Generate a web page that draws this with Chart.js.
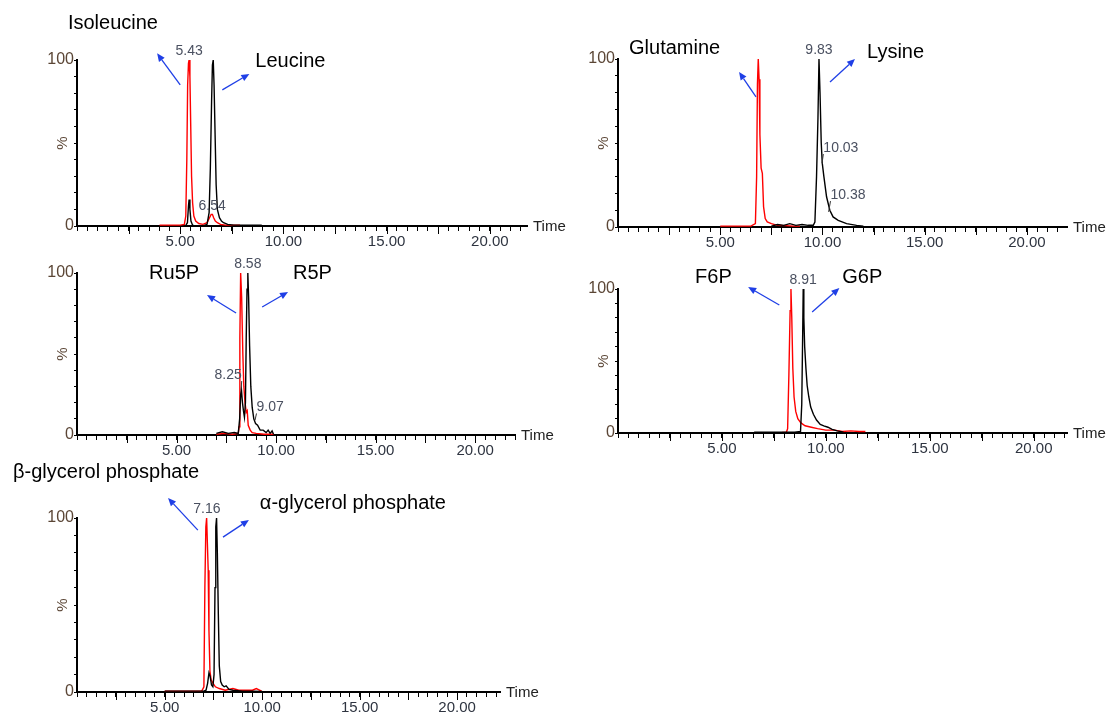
<!DOCTYPE html>
<html>
<head>
<meta charset="utf-8">
<script src="https://cdn.jsdelivr.net/npm/chart.js@4.4.0/dist/chart.umd.min.js"></script>
<style>
  body { margin: 0; background: #fff; width: 1114px; height: 713px; position: relative; overflow: hidden; }
  canvas { position: absolute; }
</style>
</head>
<body>
<canvas id="c1"></canvas>
<canvas id="c2"></canvas>
<canvas id="c3"></canvas>
<canvas id="c4"></canvas>
<canvas id="c5"></canvas>
<script>
// ---- data (time in min, intensity in %) ----
// Isoleucine (red) / Leucine (black)
var ileT = [4.0, 4.6, 5.0, 5.2, 5.27, 5.32, 5.36, 5.40, 5.43, 5.47, 5.51, 5.55, 5.60, 5.66, 5.75, 5.9, 6.1, 6.3, 6.42, 6.5, 6.56, 6.62, 6.7, 6.8, 6.95, 7.2, 7.5, 7.9];
var ileV = [0.5, 0.5, 0.5, 1, 6, 40, 85, 98, 100, 90, 60, 30, 14, 6, 3, 1.5, 1, 2, 5, 7, 7, 5, 3, 2, 1, 0.5, 0.5, 0.5];
var leuT = [5.25, 5.35, 5.40, 5.43, 5.47, 5.52, 5.6, 5.7, 5.9, 6.1, 6.3, 6.4, 6.46, 6.52, 6.56, 6.6, 6.64, 6.69, 6.74, 6.8, 6.9, 7.0, 7.1, 7.3, 7.6, 8.0, 8.5, 8.95];
var leuV = [0, 2, 12, 16, 10, 3, 0.5, 0, 0, 0, 1, 8, 35, 75, 97, 100, 85, 55, 25, 10, 5, 3, 2, 1, 0.5, 0.5, 0.5, 0.5];

// Glutamine (red) / Lysine (black)
var glnT = [5.0, 6.0, 6.5, 6.72, 6.78, 6.82, 6.86, 6.9, 6.94, 7.0, 7.06, 7.12, 7.2, 7.3, 7.5, 7.8, 8.2, 8.6, 8.9];
var glnV = [0.5, 0.5, 0.5, 2, 30, 85, 100, 88, 55, 35, 32, 12, 5, 3, 2, 1, 0.8, 0.5, 0.5];
var lysT = [7.5, 7.8, 8.1, 8.4, 8.7, 9.0, 9.3, 9.55, 9.63, 9.71, 9.78, 9.83, 9.88, 9.94, 9.99, 10.07, 10.2, 10.36, 10.52, 10.77, 11.18, 11.67, 12.0];
var lysV = [0.5, 1.5, 1, 2, 1, 1.5, 1, 1, 3, 30, 65, 100, 80, 50, 38, 30, 18, 10, 6, 4, 2, 1, 0.5];

// Ru5P (red) / R5P (black)
var ru5pT = [7.0, 7.4, 7.8, 8.1, 8.14, 8.18, 8.22, 8.27, 8.33, 8.38, 8.44, 8.5, 8.55, 8.6, 8.7, 8.8, 9.0, 9.4, 9.87];
var ru5pV = [0.5, 1, 0.5, 1, 5, 60, 100, 85, 50, 30, 20, 14, 15, 6, 3, 1.5, 1, 0.5, 0.5];
var r5pT = [7.0, 7.3, 7.6, 7.9, 8.1, 8.17, 8.22, 8.26, 8.31, 8.36, 8.41, 8.46, 8.5, 8.54, 8.58, 8.62, 8.67, 8.73, 8.8, 8.88, 8.97, 9.07, 9.2, 9.35, 9.5, 9.6, 9.7, 9.8, 9.87];
var r5pV = [1, 2, 1, 1.5, 1, 10, 25, 28, 20, 15, 11, 20, 60, 90, 100, 85, 55, 30, 17, 10, 7, 6, 3, 3, 1.5, 3, 1, 2.5, 0.5];

// F6P (red) / G6P (black)
var f6pT = [7.9, 8.1, 8.16, 8.22, 8.28, 8.32, 8.36, 8.41, 8.47, 8.55, 8.65, 8.8, 9.0, 9.3, 9.6, 10.0, 10.4, 10.8, 11.2, 11.6, 11.9];
var f6pV = [0.3, 0.5, 3, 40, 85, 100, 80, 45, 25, 15, 10, 7, 5, 4, 3, 2, 2, 1, 1.5, 1, 1];
var g6pT = [6.55, 7.0, 7.5, 8.0, 8.5, 8.78, 8.84, 8.89, 8.91, 8.94, 8.98, 9.04, 9.1, 9.18, 9.27, 9.4, 9.55, 9.73, 9.9, 10.1, 10.3, 10.55, 10.85];
var g6pV = [0.5, 0.5, 0.5, 0.5, 0.5, 1, 20, 75, 100, 80, 60, 45, 33, 25, 18, 13, 9, 6, 5, 4, 2.5, 1.5, 0.5];

// beta-glycerol phosphate (red) / alpha-glycerol phosphate (black)
var bgpT = [5.0, 6.0, 6.9, 7.01, 7.06, 7.11, 7.15, 7.19, 7.23, 7.27, 7.32, 7.38, 7.48, 7.6, 7.8, 8.1, 8.5, 8.8, 9.2, 9.5, 9.7, 9.97];
var bgpV = [0.5, 0.5, 0.5, 3, 60, 95, 100, 85, 70, 35, 12, 7, 5, 3, 2, 1, 2, 1, 1, 1, 2, 0.5];
var agpT = [5.0, 6.0, 7.0, 7.12, 7.2, 7.27, 7.33, 7.4, 7.47, 7.53, 7.58, 7.62, 7.66, 7.7, 7.75, 7.8, 7.87, 7.95, 8.05, 8.15, 8.3, 8.5, 9.0, 9.5, 10.0];
var agpV = [0.5, 0.5, 0.5, 1, 5, 11, 9, 4, 3, 10, 60, 95, 100, 80, 45, 15, 6, 4, 3, 3.5, 1.5, 1, 0.5, 0.5, 0.3];

// x axis tick labels
var xLabels = [5, 10, 15, 20];

Chart.defaults.font.family = "'Liberation Sans', Arial, sans-serif";

function pts(t, v) {
  return t.map(function (x, i) { return { x: x, y: v[i] }; });
}

// decorations: longer ticks, % and Time labels, peak labels, names, arrows
var deco = {
  id: 'deco',
  afterDraw: function (chart, args, o) {
    var ctx = chart.ctx, a = chart.chartArea, x = chart.scales.x, y = chart.scales.y;
    ctx.save();
    ctx.strokeStyle = '#000';
    ctx.lineWidth = 1;
    for (var t = Math.ceil(x.min / 2.5) * 2.5; t <= x.max; t += 2.5) {
      if (t === 0) continue;
      var px = Math.round(x.getPixelForValue(t)) + 0.5;
      ctx.beginPath(); ctx.moveTo(px, a.bottom); ctx.lineTo(px, a.bottom + 8); ctx.stroke();
    }
    // % label
    ctx.save();
    ctx.fillStyle = '#5b4636';
    ctx.font = "15px 'Liberation Sans', Arial";
    ctx.translate(a.left - 14, (a.top + a.bottom) / 2);
    ctx.rotate(-Math.PI / 2);
    ctx.textAlign = 'center'; ctx.textBaseline = 'middle';
    ctx.fillText('%', 0, 0);
    ctx.restore();
    // Time
    ctx.fillStyle = '#222';
    ctx.font = "15px 'Liberation Sans', Arial";
    ctx.textAlign = 'left'; ctx.textBaseline = 'middle';
    ctx.fillText('Time', a.right + 6, a.bottom + 1);
    // peak labels
    ctx.font = "14px 'Liberation Sans', Arial";
    ctx.fillStyle = '#4a5060';
    ctx.strokeStyle = '#333';
    (o.peaks || []).forEach(function (p) {
      var px = x.getPixelForValue(p.t), py = y.getPixelForValue(p.v);
      if (p.lt === undefined) {
        ctx.textAlign = 'center'; ctx.textBaseline = 'bottom';
        ctx.fillText(p.text, px, py - 2);
        return;
      }
      var cx = x.getPixelForValue(p.lt), cy = y.getPixelForValue(p.lv);
      ctx.textAlign = 'center'; ctx.textBaseline = 'middle';
      ctx.fillText(p.text, cx, cy);
      if (p.line === false) return;
      var w = ctx.measureText(p.text).width;
      var ex = p.lt > p.t ? cx - w / 2 : cx + w / 2;
      ctx.beginPath(); ctx.moveTo(px, py); ctx.lineTo(ex, cy + 6); ctx.stroke();
    });
    // compound names
    ctx.font = "20px 'Liberation Sans', Arial";
    ctx.fillStyle = '#000';
    ctx.textAlign = 'left'; ctx.textBaseline = 'middle';
    (o.names || []).forEach(function (n) {
      ctx.fillText(n.text, x.getPixelForValue(n.t), y.getPixelForValue(n.v));
    });
    // arrows
    ctx.strokeStyle = '#1f3fe6';
    ctx.fillStyle = '#1f3fe6';
    ctx.lineWidth = 1.3;
    (o.arrows || []).forEach(function (r) {
      var x0 = x.getPixelForValue(r[0]), y0 = y.getPixelForValue(r[1]);
      var x1 = x.getPixelForValue(r[2]), y1 = y.getPixelForValue(r[3]);
      var ang = Math.atan2(y1 - y0, x1 - x0);
      var hl = 8, hw = 3.5;
      var bx = x1 - hl * Math.cos(ang), by = y1 - hl * Math.sin(ang);
      ctx.beginPath(); ctx.moveTo(x0, y0); ctx.lineTo(bx, by); ctx.stroke();
      ctx.beginPath();
      ctx.moveTo(x1, y1);
      ctx.lineTo(bx + hw * Math.sin(ang), by - hw * Math.cos(ang));
      ctx.lineTo(bx - hw * Math.sin(ang), by + hw * Math.cos(ang));
      ctx.closePath(); ctx.fill();
    });
    ctx.restore();
  }
};

function makeChart(p) {
  var el = document.getElementById(p.id);
  el.width = p.w; el.height = p.h;
  el.style.left = p.left + 'px'; el.style.top = p.top + 'px';
  el.style.width = p.w + 'px'; el.style.height = p.h + 'px';
  return new Chart(el, {
    type: 'line',
    data: {
      datasets: [
        { data: pts(p.bT, p.bV), borderColor: '#000', borderWidth: 1.4, pointRadius: 0, tension: 0, fill: false },
        { data: pts(p.rT, p.rV), borderColor: '#ff0000', borderWidth: 1.4, pointRadius: 0, tension: 0, fill: false }
      ]
    },
    options: {
      responsive: false,
      animation: false,
      devicePixelRatio: 1,
      layout: { padding: { left: 0, top: p.area.t, right: p.w - p.area.r, bottom: 0 } },
      plugins: {
        legend: { display: false },
        tooltip: { enabled: false },
        deco: { peaks: p.peaks, names: p.names, arrows: p.arrows }
      },
      scales: {
        x: {
          type: 'linear', min: p.xMin, max: p.xMax,
          border: { display: true, color: '#000', width: 2 },
          grid: { drawOnChartArea: false, drawTicks: true, tickLength: 5, tickColor: '#000' },
          ticks: {
            stepSize: 0.5, includeBounds: false, autoSkip: false, maxRotation: 0, padding: 2,
            color: '#2e3440', font: { size: 15 },
            callback: function (v) {
              for (var i = 0; i < xLabels.length; i++) {
                if (Math.abs(v - xLabels[i]) < 1e-6) return xLabels[i].toFixed(2);
              }
              return '';
            }
          },
          afterFit: function (s) { s.height = p.h - p.area.b; }
        },
        y: {
          min: 0, max: 100,
          border: { display: true, color: '#000', width: 2 },
          grid: { drawOnChartArea: false, drawTicks: true, tickLength: 3, tickColor: '#000' },
          ticks: {
            stepSize: 10, autoSkip: false, padding: 0, color: '#5b4636', font: { size: 16 },
            callback: function (v) { return (v === 0 || v === 100) ? String(v) : ''; }
          },
          afterFit: function (s) { s.width = p.area.l; }
        }
      }
    },
    plugins: [deco]
  });
}

makeChart({
  id: 'c1', left: 0, top: 0, w: 580, h: 255, area: { l: 77, r: 527, t: 60, b: 226 }, xMin: 0, xMax: 21.8,
  rT: ileT, rV: ileV, bT: leuT, bV: leuV,
  peaks: [{ text: '5.43', t: 5.43, v: 100 }, { text: '6.54', t: 6.54, v: 7, lt: 6.55, lv: 12, line: false }],
  names: [{ text: 'Isoleucine', t: -0.44, v: 122 }, { text: 'Leucine', t: 8.64, v: 99 }],
  arrows: [[5.0, 85, 3.88, 104], [7.04, 82, 8.35, 91.6]]
});
makeChart({
  id: 'c2', left: 580, top: 0, w: 534, h: 255, area: { l: 38, r: 487, t: 59, b: 227 }, xMin: 0, xMax: 21.96,
  rT: glnT, rV: glnV, bT: lysT, bV: lysV,
  peaks: [{ text: '9.83', t: 9.83, v: 100 }, { text: '10.03', t: 9.98, v: 38, lt: 10.9, lv: 47 },
          { text: '10.38', t: 10.3, v: 9, lt: 11.25, lv: 19 }],
  names: [{ text: 'Glutamine', t: 0.54, v: 106.5 }, { text: 'Lysine', t: 12.18, v: 103.6 }],
  arrows: [[6.75, 77.4, 5.92, 92.3], [10.37, 86.3, 11.59, 100]]
});
makeChart({
  id: 'c3', left: 0, top: 248, w: 580, h: 215, area: { l: 77, r: 515, t: 25, b: 187 }, xMin: 0, xMax: 22.0,
  rT: ru5pT, rV: ru5pV, bT: r5pT, bV: r5pV,
  peaks: [{ text: '8.58', t: 8.58, v: 100 }, { text: '8.25', t: 8.24, v: 28, lt: 7.59, lv: 37 },
          { text: '9.07', t: 8.94, v: 9, lt: 9.7, lv: 17 }],
  names: [{ text: 'Ru5P', t: 3.62, v: 100 }, { text: 'R5P', t: 10.85, v: 100 }],
  arrows: [[7.99, 75.3, 6.53, 86.4], [9.3, 79, 10.6, 88.3]]
});
makeChart({
  id: 'c4', left: 580, top: 250, w: 534, h: 213, area: { l: 38, r: 487, t: 39, b: 183 }, xMin: 0, xMax: 21.6,
  rT: f6pT, rV: f6pV, bT: g6pT, bV: g6pV,
  peaks: [{ text: '8.91', t: 8.91, v: 100 }],
  names: [{ text: 'F6P', t: 3.71, v: 108 }, { text: 'G6P', t: 10.79, v: 108 }],
  arrows: [[7.76, 88.9, 6.26, 101.4], [9.34, 84, 10.65, 100.7]]
});
makeChart({
  id: 'c5', left: 0, top: 458, w: 580, h: 255, area: { l: 77, r: 500, t: 60, b: 234 }, xMin: 0.5, xMax: 22.2,
  rT: bgpT, rV: bgpV, bT: agpT, bV: agpV,
  peaks: [{ text: '7.16', t: 7.16, v: 100 }],
  names: [{ text: 'β-glycerol phosphate', t: -2.78, v: 126.4 }, { text: 'α-glycerol phosphate', t: 9.88, v: 108.6 }],
  arrows: [[6.7, 93, 5.17, 111.5], [7.99, 89, 9.32, 98.9]]
});
</script>
</body>
</html>
